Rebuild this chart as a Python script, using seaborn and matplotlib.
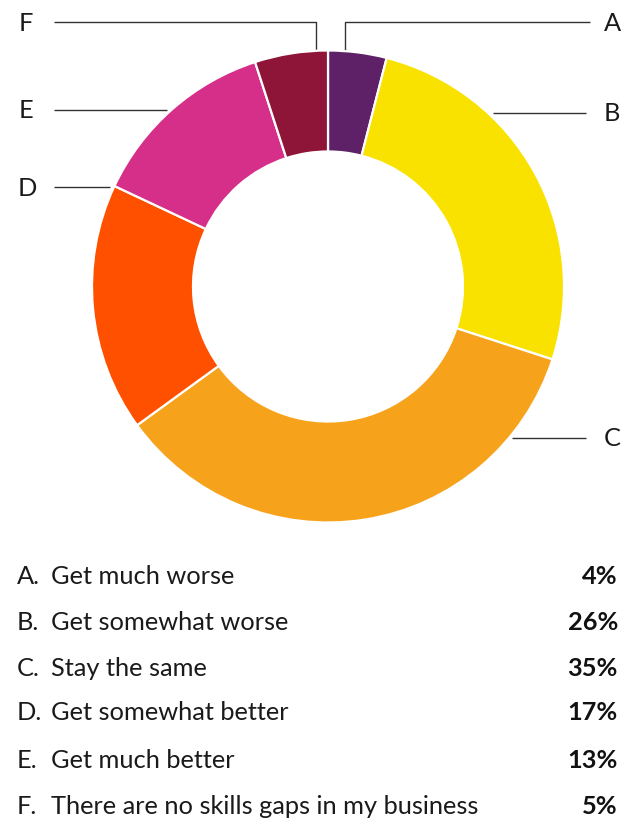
import matplotlib
matplotlib.use("Agg")
import matplotlib.pyplot as plt
import seaborn as sns

# Survey answers and their shares
letters = ["A", "B", "C", "D", "E", "F"]
answers = [
    "Get much worse",
    "Get somewhat worse",
    "Stay the same",
    "Get somewhat better",
    "Get much better",
    "There are no skills gaps in my business",
]
shares = [4, 26, 35, 17, 13, 5]
colors = ["#5E2167", "#F9E100", "#F6A31B", "#FF5000", "#D62F8A", "#8E1538"]

sns.set_theme(style="white")
plt.rcParams["font.family"] = ["Lato", "DejaVu Sans"]

W, H = 624, 824
fig = plt.figure(figsize=(W / 100, H / 100), dpi=100)
fig.patch.set_facecolor("white")

# Overlay axes in pixel coordinates for leader lines and text
ax_bg = fig.add_axes([0, 0, 1, 1])
ax_bg.set_xlim(0, W)
ax_bg.set_ylim(H, 0)
ax_bg.axis("off")

# Donut
cx, cy, r = 328, 286.5, 236
ax_pie = fig.add_axes([(cx - r) / W, (H - cy - r) / H, 2 * r / W, 2 * r / H])
ax_pie.pie(
    shares,
    colors=colors,
    startangle=90,
    counterclock=False,
    radius=1.0,
    wedgeprops=dict(width=101 / r, edgecolor="white", linewidth=1.6),
)
ax_pie.set_xlim(-1, 1)
ax_pie.set_ylim(-1, 1)
ax_pie.set_aspect("equal")
ax_pie.axis("off")

FS = 18.3
line_kw = dict(color="#333333", lw=1.0, solid_capstyle="butt")
label_kw = dict(fontsize=FS, color="#1a1a1a", va="center")

# Leader lines: (letter, polyline points, label position)
leaders = [
    ("A", [(345, 66), (345, 22), (590, 22)], (612, 23)),
    ("B", [(493, 113), (586, 113)], (612, 113)),
    ("C", [(512, 438), (586, 438)], (612, 438)),
    ("D", [(110, 187), (54, 187)], (27, 188)),
    ("E", [(167, 110), (54, 110)], (26, 110)),
    ("F", [(316, 66), (316, 22), (54, 22)], (26, 23)),
]
for letter, pts, (tx, ty) in leaders:
    xs = [p[0] for p in pts]
    ys = [p[1] for p in pts]
    ax_bg.plot(xs, ys, **line_kw)
    ax_bg.text(tx, ty, letter, ha="center", **label_kw)

# Legend table below the donut
row_y = [577, 622, 668, 713, 760, 806]
for letter, answer, share, y in zip(letters, answers, shares, row_y):
    ax_bg.text(17, y, f"{letter}.", ha="left", **label_kw)
    ax_bg.text(51, y, answer, ha="left", **label_kw)
    ax_bg.text(618, y, f"{share}%", ha="right", fontweight="bold",
               fontsize=FS, color="#111111", va="center")

fig.savefig("out.png", dpi=100, facecolor="white")
